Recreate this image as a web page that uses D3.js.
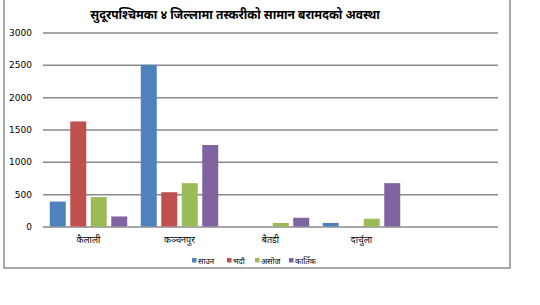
<!DOCTYPE html>
<html>
<head>
<meta charset="utf-8">
<script src="https://cdn.jsdelivr.net/npm/d3@7"></script>
<style>
  body { margin: 0; background: #fff; }
  text { font-family: "Noto Sans", "DejaVu Sans", sans-serif; fill: #000; }
</style>
</head>
<body>
<svg id="chart" width="540" height="305"></svg>
<script>
const title = 'सुदूरपश्चिमका ४ जिल्लामा तस्करीको सामान बरामदको अवस्था';
const districts = ['कैलाली', 'कञ्चनपुर', 'बैतडी', 'दार्चुला', ''];
const months = ['साउन', 'भदौ', 'असोज', 'कार्तिक'];
const saun = [385, 2500, 0, 55];
const bhadau = [1625, 530, 0, 0];
const asoj = [455, 670, 55, 120];
const kartik = [155, 1260, 135, 670];
const yTicks = [0, 500, 1000, 1500, 2000, 2500, 3000];
const colors = ['#4F81BD', '#C0504D', '#9BBB59', '#8064A2'];

const series = [saun, bhadau, asoj, kartik];

const svg = d3.select('#chart');

// outer chart frame
svg.append('rect')
  .attr('x', 4).attr('y', -5)
  .attr('width', 506).attr('height', 273)
  .attr('fill', '#fff')
  .attr('stroke', '#8c8c8c')
  .attr('stroke-width', 1.5);

svg.append('text')
  .attr('x', 235).attr('y', 19)
  .attr('text-anchor', 'middle')
  .style('font-size', '12px')
  .style('font-weight', 'bold')
  .text(title);

const x0 = d3.scaleBand()
  .domain(districts.map((d, i) => i))
  .range([43, 498]);

const x1 = d3.scaleBand()
  .domain(months)
  .range([0, x0.bandwidth()])
  .paddingInner(0.22)
  .paddingOuter(0.33);

const y = d3.scaleLinear()
  .domain([0, 3000])
  .range([226.5, 32.5]);

// gridlines + y labels
const yAxis = svg.append('g')
  .attr('transform', 'translate(43,0)')
  .call(d3.axisLeft(y).tickValues(yTicks).tickFormat(d3.format('d'))
    .tickSize(-455).tickPadding(11));
yAxis.select('.domain').remove();
yAxis.selectAll('.tick line')
  .attr('stroke', '#8a8a8a')
  .attr('stroke-width', 1.5);
yAxis.selectAll('.tick text')
  .style('font-size', '9px')
  .style('font-family', '"DejaVu Sans", sans-serif')
  .attr('fill', '#000');

// bars
svg.append('g')
  .selectAll('g')
  .data(districts.slice(0, 4))
  .join('g')
  .attr('transform', (d, i) => `translate(${x0(i)},0)`)
  .selectAll('rect')
  .data((d, i) => months.map((m, j) => ({ m, j, v: series[j][i] })))
  .join('rect')
  .attr('x', d => x1(d.m))
  .attr('y', d => y(d.v))
  .attr('width', x1.bandwidth())
  .attr('height', d => y(0) - y(d.v))
  .attr('fill', d => colors[d.j]);

// category labels
svg.append('g')
  .selectAll('text')
  .data(districts)
  .join('text')
  .attr('x', (d, i) => x0(i) + x0.bandwidth() / 2)
  .attr('y', 243)
  .attr('text-anchor', 'middle')
  .style('font-size', '9px')
  .text(d => d);

// legend
const legendX = [192, 227, 255, 289];
const legend = svg.append('g')
  .selectAll('g')
  .data(months)
  .join('g')
  .attr('transform', (d, i) => `translate(${legendX[i]},258)`);
legend.append('rect')
  .attr('width', 4.5).attr('height', 4.5)
  .attr('fill', (d, i) => colors[i]);
legend.append('text')
  .attr('x', 6).attr('y', 5.5)
  .style('font-size', '8px')
  .text(d => d);
</script>
</body>
</html>
